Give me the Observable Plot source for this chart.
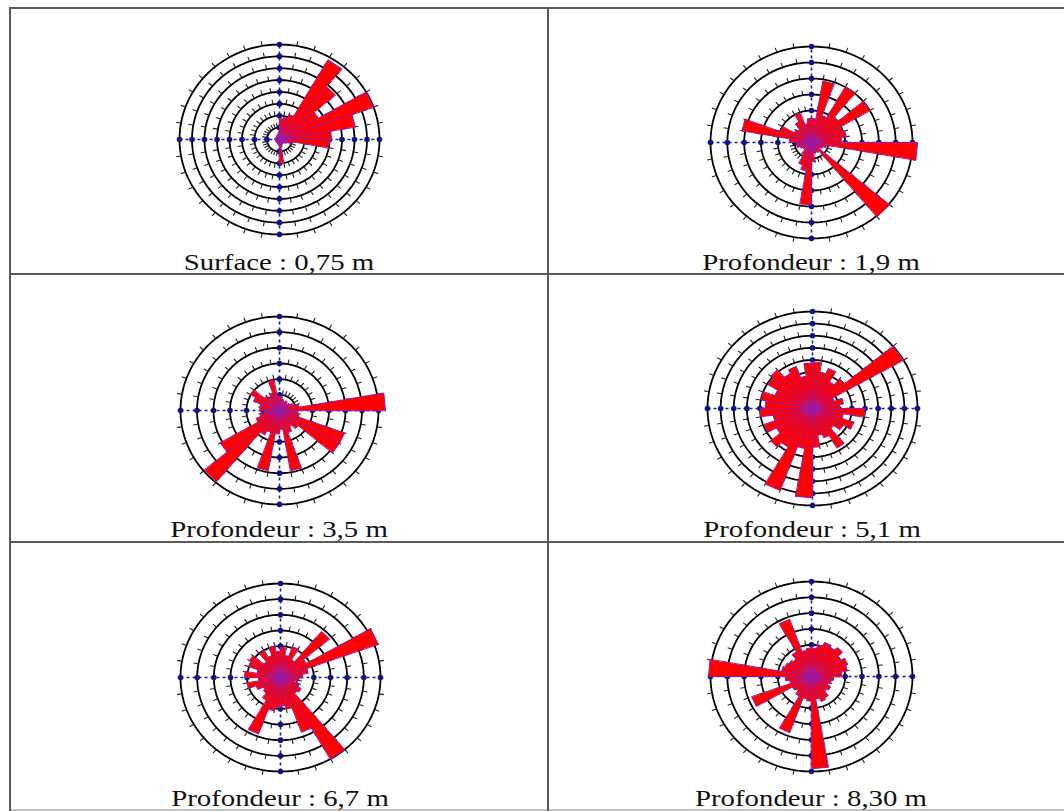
<!DOCTYPE html>
<html><head><meta charset="utf-8">
<script src="https://cdn.jsdelivr.net/npm/d3@7"></script>
<script src="https://cdn.jsdelivr.net/npm/@observablehq/plot@0.6"></script>
<style>
html,body{margin:0;padding:0;background:#fff;width:1064px;height:811px;overflow:hidden;}
#page{position:relative;width:1064px;height:811px;}
.hline{position:absolute;height:2px;background:#5a5a5a;}
.vline{position:absolute;width:2px;background:#5a5a5a;}
.panel{position:absolute;}
.panel svg{background:transparent !important;}
.label{position:absolute;font-family:"Liberation Serif","Times New Roman",serif;font-size:24px;line-height:24px;color:#111;white-space:nowrap;transform:translateX(-50%) scaleX(1.2);transform-origin:center;}
</style>
</head><body><div id="page"></div>
<script>
// Bin start angles (degrees clockwise from north), 10° classes
const binStarts = d3.range(0, 360, 10);
// Petal lengths per bin, in % of the outer circle
const surface075 = [22,24,28,97,73,45,100,77,52,50,12,8,6,5,5,6,8,25,6,5,4,4,4,4,4,4,4,5,4,4,4,4,5,5,6,8];
const prof19 = [25,65,30,67,35,67,33,35,30,105,15,12,10,101,12,10,12,20,65,30,25,15,10,10,12,15,15,22,70,33,20,18,25,33,20,25];
const prof35 = [15,12,10,12,10,12,15,20,107,18,20,70,70,25,20,25,65,20,25,65,25,30,99,69,25,20,15,20,20,28,34,20,15,20,33,15];
const prof51 = [48,38,44,32,40,100,22,30,26,50,30,42,34,27,47,32,28,40,92,42,90,46,52,40,49,38,50,45,50,38,49,52,42,46,34,47];
const prof67 = [32,24,35,22,64,30,104,28,22,18,15,20,24,22,100,62,34,30,32,36,64,28,22,20,26,34,22,36,24,34,36,22,33,25,34,28];
const prof830 = [30,34,38,36,40,34,38,36,30,22,20,18,22,20,26,28,24,97,26,24,63,24,20,22,63,22,26,102,30,28,26,24,30,64,28,30];
const seriesList = [surface075, prof19, prof35, prof51, prof67, prof830];
const labels = ["Surface : 0,75 m","Profondeur : 1,9 m","Profondeur : 3,5 m","Profondeur : 5,1 m","Profondeur : 6,7 m","Profondeur : 8,30 m"];
const ringCounts = [8, 6, 6, 8, 6, 6];

// layout (page pixels)
const layout = [
  {cx:279, cy:139, rx:100, ry:95, ly:250},
  {cx:811, cy:142, rx:101, ry:96, ly:250},
  {cx:279, cy:410, rx:99, ry:94, ly:517},
  {cx:812, cy:408, rx:105, ry:97, ly:517},
  {cx:280, cy:677, rx:100, ry:94, ly:786},
  {cx:811, cy:676, rx:101, ry:95, ly:786}
];

const page = document.getElementById("page");
function line(cls, css){const d=document.createElement("div");d.className=cls;Object.assign(d.style,css);page.appendChild(d);}
line("hline",{left:"9px",top:"7px",width:"1055px"});
line("hline",{left:"9px",top:"273px",width:"1055px"});
line("hline",{left:"9px",top:"541px",width:"1055px"});
line("hline",{left:"9px",top:"809px",width:"1055px",background:"#c4c4c4"});
line("vline",{left:"9px",top:"7px",height:"804px"});
line("vline",{left:"547px",top:"7px",height:"804px"});

const rad = Math.PI/180;
function rose(values, rings, L) {
  const outer = 100, step = outer / rings;
  const pad = 14;
  const W = 2*(L.rx+pad), H = 2*(L.ry+pad);
  const hx = outer*(W/2)/L.rx, hy = outer*(H/2)/L.ry;
  const ringPts = [];
  for (let k=1;k<=rings;k++) for (let a=0;a<360;a+=2) ringPts.push({k, x:k*step*Math.sin(a*rad), y:k*step*Math.cos(a*rad)});
  const tl = 5/L.rx*outer;
  const ticks = [];
  for (let k=1;k<=rings;k++) for (let a=0;a<360;a+=10) {
    if (a % 90 === 0) continue;
    const r = k*step;
    ticks.push({x1:(r+0.5)*Math.sin(a*rad), y1:(r+0.5)*Math.cos(a*rad), x2:(r+tl)*Math.sin(a*rad), y2:(r+tl)*Math.cos(a*rad)});
  }
  const axes = [{x1:-outer,y1:0,x2:outer,y2:0},{x1:0,y1:-outer,x2:0,y2:outer}];
  const axisDots = [];
  for (let k=1;k<=rings;k++){const r=k*step;axisDots.push({x:r,y:0},{x:-r,y:0},{x:0,y:r},{x:0,y:-r});}
  const petalPts = [];
  binStarts.forEach((a0, i) => {
    const v = values[i]; if (!v) return;
    const a1 = a0 + 10;
    petalPts.push({i, x:0, y:0});
    petalPts.push({i, x:v*Math.sin(a0*rad), y:v*Math.cos(a0*rad)});
    petalPts.push({i, x:v*Math.sin(a1*rad), y:v*Math.cos(a1*rad)});
  });
  return Plot.plot({
    width: W, height: H, margin: 0,
    x: {domain:[-hx, hx], axis:null},
    y: {domain:[-hy, hy], axis:null},
    style: {background:"transparent"},
    marks: [
      Plot.line(ringPts, {x:"x", y:"y", z:"k", curve:"linear-closed", stroke:"#000", strokeWidth:1.8}),
      Plot.link(ticks, {x1:"x1", y1:"y1", x2:"x2", y2:"y2", stroke:"#222", strokeWidth:1.1}),
      Plot.link(axes, {x1:"x1", y1:"y1", x2:"x2", y2:"y2", stroke:"#1c1c9c", strokeWidth:1.6, strokeDasharray:"3,3"}),
      Plot.dot(axisDots, {x:"x", y:"y", r:2.8, fill:"#101088", stroke:"none"}),
      Plot.line(petalPts, {x:"x", y:"y", z:"i", curve:"linear-closed", fill:"#ff0000", stroke:"#9a1aa8", strokeWidth:1, strokeLinejoin:"miter"})
    ]
  });
}

seriesList.forEach((vals, idx) => {
  const L = layout[idx];
  const div = document.createElement("div");
  div.className = "panel";
  const W = 2*(L.rx+14), H = 2*(L.ry+14);
  Object.assign(div.style, {left:(L.cx - W/2)+"px", top:(L.cy - H/2)+"px", width:W+"px", height:H+"px"});
  div.appendChild(rose(vals, ringCounts[idx], L));
  page.appendChild(div);
  const lab = document.createElement("div");
  lab.className = "label";
  lab.textContent = labels[idx];
  Object.assign(lab.style, {left:L.cx+"px", top:L.ly+"px"});
  page.appendChild(lab);
});
</script>
</body></html>
